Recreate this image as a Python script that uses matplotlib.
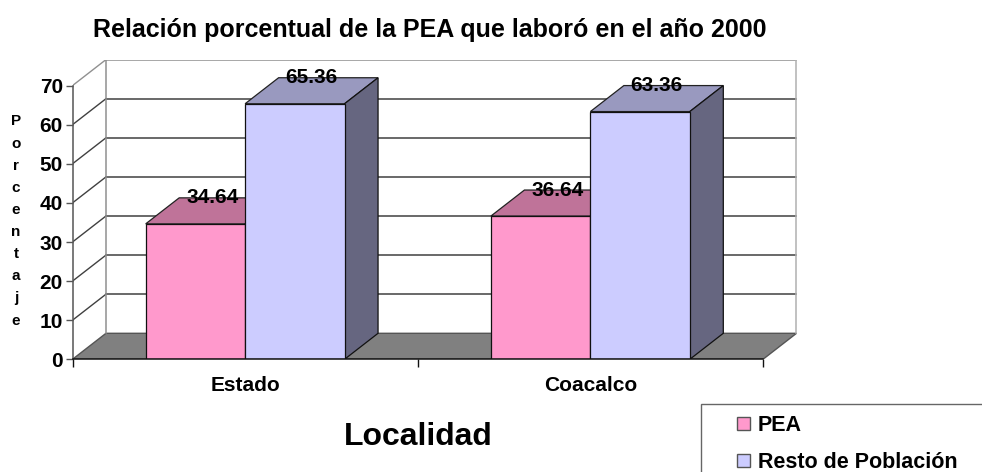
import matplotlib
matplotlib.use('Agg')
import matplotlib.pyplot as plt
from matplotlib.patches import Polygon, Rectangle

# Data
localidades = ['Estado', 'Coacalco']
pea = [34.64, 36.64]
resto = [65.36, 63.36]
y_ticks = [0, 10, 20, 30, 40, 50, 60, 70]

# Colors
pink = '#FF99CC'
pink_top = '#BF7399'
pink_side = '#805066'
blue = '#CCCCFF'
blue_top = '#9999BF'
blue_side = '#666680'

plt.rcParams['font.family'] = ['Liberation Sans', 'DejaVu Sans']
plt.rcParams['font.weight'] = 'bold'

W, H = 982, 472
fig = plt.figure(figsize=(W / 100, H / 100), dpi=100)

# Axes box in pixels, includes the 3D depth
left, right, top, bottom = 72.5, 797, 60, 359.3
ax = fig.add_axes([left / W, 1 - bottom / H, (right - left) / W, (bottom - top) / H])
ax.set_xlim(0, (right - left) / 345.25)
ax.set_ylim(0, (bottom - top) / 3.91)
ax.patch.set_visible(False)

# Depth of the fake 3D, in data units
dx = 0.097
dy = 6.65
bar_w = 0.288

# Floor
ax.add_patch(Polygon([(0, 0), (2, 0), (2 + dx, dy), (dx, dy)], fc='#808080', ec='#555555', lw=1, zorder=1))

# Grid on the back wall and on the left wall
for t in y_ticks[1:]:
    c = '#909090' if t == 70 else '#404040'
    ax.plot([dx, 2 + dx], [t + dy, t + dy], color=c, lw=1.1, zorder=1)
    ax.plot([0, dx], [t, t + dy], color=c, lw=1, zorder=1)
ax.plot([dx, dx], [dy, 70 + dy], color='#909090', lw=1.1, zorder=1)
ax.plot([2 + dx, 2 + dx], [dy, 70 + dy], color='#B0B0B0', lw=1.1, zorder=1)


def bar3d(x, v, front, top_c, side, z):
    ax.bar(x, v, bar_w, align='edge', color=front, edgecolor='#111111', lw=0.9, zorder=z + 1)
    ax.add_patch(Polygon([(x, v), (x + bar_w, v), (x + bar_w + dx, v + dy), (x + dx, v + dy)],
                         fc=top_c, ec='#222222', lw=0.9, zorder=z))
    ax.add_patch(Polygon([(x + bar_w, 0), (x + bar_w + dx, dy), (x + bar_w + dx, v + dy), (x + bar_w, v)],
                         fc=side, ec='#111111', lw=0.9, zorder=z))


for i in range(len(localidades)):
    center = i + 0.5
    bar3d(center - bar_w, pea[i], pink, pink_top, pink_side, 2)
    bar3d(center, resto[i], blue, blue_top, blue_side, 4)
    # Value labels
    ax.text(center - bar_w / 2 + dx / 2, pea[i] + dy, f'{pea[i]:.2f}', ha='center', va='center',
            fontsize=15, color='black', zorder=8)
    ax.text(center + bar_w / 2 + dx / 2, resto[i] + dy, f'{resto[i]:.2f}', ha='center', va='center',
            fontsize=15, color='black', zorder=8)

# Axes lines and ticks
for s in ['top', 'right']:
    ax.spines[s].set_visible(False)
ax.spines['left'].set_bounds(0, 70)
ax.spines['left'].set_color('#555555')
ax.spines['left'].set_linewidth(1.1)
ax.spines['bottom'].set_bounds(0, 2)
ax.spines['bottom'].set_color('#111111')
ax.spines['bottom'].set_linewidth(1.1)
ax.spines['bottom'].set_zorder(9)
ax.set_yticks(y_ticks)
ax.set_yticklabels([str(t) for t in y_ticks], fontsize=15)
ax.tick_params(axis='y', length=5, width=1, color='#555555', pad=2)
ax.set_xticks([0, 1, 2])
ax.set_xticklabels([])
ax.tick_params(axis='x', length=6, width=1, color='#111111')
for i, name in enumerate(localidades):
    ax.text(i + 0.5, -6.6, name, ha='center', va='center', fontsize=15, clip_on=False)

# Titles
fig.text(430 / W, 1 - 30 / H, 'Relación porcentual de la PEA que laboró en el año 2000',
         ha='center', va='center', fontsize=18)
fig.text(418 / W, 1 - 437 / H, 'Localidad', ha='center', va='center', fontsize=23)
fig.text(16 / W, 1 - 221 / H, '\n'.join('Porcentaje'), ha='center', va='center', fontsize=11, linespacing=1.74)

# Legend box runs off the canvas
fig.add_artist(Rectangle((700.5 / W, -0.05), 0.4, 1 - 403.7 / H + 0.05, transform=fig.transFigure,
                         fc='white', ec='#666666', lw=1))
handles = [Rectangle((0, 0), 1, 1, fc=pink, ec='#555555'), Rectangle((0, 0), 1, 1, fc=blue, ec='#555555')]
fig.legend(handles, ['PEA', 'Resto de Población'], loc='upper left', frameon=False,
           bbox_to_anchor=(737 / W, 1 - 415 / H), fontsize=15.5, handlelength=0.6, handleheight=0.6,
           handletextpad=0.37, labelspacing=0.75, borderpad=0, borderaxespad=0)

fig.savefig('out.png', dpi=100)
